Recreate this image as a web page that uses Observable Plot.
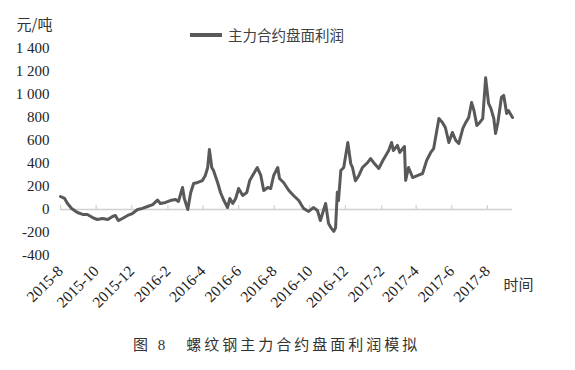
<!DOCTYPE html>
<html><head><meta charset="utf-8">
<script src="https://cdn.jsdelivr.net/npm/d3@7"></script>
<script src="https://cdn.jsdelivr.net/npm/@observablehq/plot@0.6"></script>
<style>
body{margin:0;background:#fff;font-family:"Liberation Serif","Noto Sans CJK SC",serif;}
#wrap{position:relative;width:575px;height:370px;overflow:hidden;}
#chart{position:absolute;left:0;top:0;}
#legend{position:absolute;left:190px;top:24px;font-size:14.5px;color:#404040;display:flex;align-items:center;font-family:"Noto Sans CJK SC",sans-serif;}
#legend .sw{display:inline-block;width:32px;height:4px;background:#595959;margin-right:6px;}
#caption{position:absolute;left:133px;top:333px;font-size:15px;color:#333;letter-spacing:3px;white-space:pre;font-family:"Liberation Serif","Noto Sans CJK SC",serif;}
</style></head>
<body><div id="wrap"><div id="chart"></div><div id="legend"><span class="sw"></span><span id="legtxt"></span></div><div id="caption"></div></div>
<script>
const seriesName = "主力合约盘面利润";
const yUnit = "元/吨";
const xTitle = "时间";
const captionText = "图 8　螺纹钢主力合约盘面利润模拟";

const dates = [
"2015-08-01","2015-08-08","2015-08-13","2015-08-20","2015-08-30","2015-09-08","2015-09-16","2015-09-25",
"2015-10-03","2015-10-12","2015-10-21","2015-10-29","2015-11-03","2015-11-08","2015-11-15","2015-11-24",
"2015-12-02","2015-12-11","2015-12-19","2015-12-28","2016-01-06","2016-01-14","2016-01-19","2016-01-28",
"2016-02-05","2016-02-14","2016-02-19","2016-02-26","2016-02-29","2016-03-06","2016-03-11","2016-03-16",
"2016-03-23","2016-03-31","2016-04-05","2016-04-09","2016-04-12","2016-04-16","2016-04-19","2016-04-26",
"2016-05-01","2016-05-06","2016-05-13","2016-05-17","2016-05-22","2016-05-27","2016-06-01","2016-06-08",
"2016-06-15","2016-06-20","2016-06-27","2016-07-03","2016-07-09","2016-07-14","2016-07-21","2016-07-26",
"2016-07-31","2016-08-07","2016-08-10","2016-08-17","2016-08-26","2016-09-03","2016-09-12","2016-09-20",
"2016-09-29","2016-10-07","2016-10-14","2016-10-19","2016-10-28","2016-11-02","2016-11-06","2016-11-11",
"2016-11-14","2016-11-17","2016-11-19","2016-11-23","2016-11-28","2016-12-05","2016-12-10","2016-12-13",
"2016-12-18","2016-12-24","2016-12-30","2017-01-08","2017-01-13","2017-01-18","2017-01-27","2017-02-03",
"2017-02-08","2017-02-13","2017-02-18","2017-02-21","2017-02-28","2017-03-04","2017-03-09","2017-03-12",
"2017-03-14","2017-03-19","2017-03-26","2017-04-04","2017-04-12","2017-04-19","2017-04-26","2017-05-01",
"2017-05-10","2017-05-16","2017-05-21","2017-05-27","2017-06-02","2017-06-08","2017-06-13","2017-06-20",
"2017-06-25","2017-06-30","2017-07-05","2017-07-09","2017-07-14","2017-07-19","2017-07-24","2017-07-29",
"2017-08-03","2017-08-07","2017-08-12","2017-08-15","2017-08-19","2017-08-25","2017-08-29","2017-09-03",
"2017-09-06","2017-09-13"
];
const profit = [
113,96,52,9,-26,-43,-43,-70,
-87,-78,-87,-61,-52,-96,-78,-52,
-35,0,9,26,43,82,52,61,
78,87,70,191,96,0,148,226,
235,252,296,365,522,365,339,235,
148,87,17,96,52,96,183,122,
148,252,313,365,296,165,191,183,
296,365,270,235,165,122,78,10,
-17,17,-9,-96,52,-122,-157,-190,
-160,150,78,339,365,583,400,365,
250,296,365,409,443,409,357,426,
470,513,583,513,557,496,530,548,
252,365,278,296,313,426,496,530,
791,757,713,583,670,600,574,705,
757,800,930,861,731,757,791,1145,
922,879,791,661,757,974,992,835,
861,800
];
const xTickLabels = ["2015-8","2015-10","2015-12","2016-2","2016-4","2016-6","2016-8","2016-10","2016-12","2017-2","2017-4","2017-6","2017-8"];
const yTicks = [-400,-200,0,200,400,600,800,1000,1200,1400];

const parse = d3.utcParse("%Y-%m-%d");
const parseMonth = d3.utcParse("%Y-%m");
const data = dates.map((d, i) => ({date: parse(d), value: profit[i]}));
const tickDates = xTickLabels.map(s => parseMonth(s));
const fmtY = d3.formatLocale({decimal: ".", thousands: " ", grouping: [3], currency: ["", ""], minus: "-"}).format(",");
const fmtX = d3.utcFormat("%Y-%-m");

const chart = Plot.plot({
  width: 575,
  height: 320,
  marginTop: 48,
  marginBottom: 65,
  marginLeft: 60,
  marginRight: 63,
  style: {fontFamily: '"Liberation Serif","Noto Sans CJK SC",serif', fontSize: "15px", color: "#222", background: "transparent", overflow: "visible"},
  x: {type: "utc", domain: [parse(dates[0]), parse(dates[dates.length - 1])], ticks: tickDates, tickFormat: fmtX, tickRotate: -45, tickSize: 0, tickPadding: 13, label: null},
  y: {domain: [yTicks[0], yTicks[yTicks.length - 1]], ticks: yTicks, tickFormat: fmtY, tickSize: 0, tickPadding: 11, label: null},
  marks: [
    Plot.ruleY([0], {stroke: "#d0d0d0", strokeWidth: 1.5}),
    Plot.ruleX(tickDates, {x: d => d, y1: 0, y2: 35, stroke: "#d0d0d0", strokeWidth: 1.2}),
    Plot.line(data, {x: "date", y: "value", stroke: "#595959", strokeWidth: 3, strokeLinejoin: "round", strokeLinecap: "round"}),
    Plot.text([yUnit], {frameAnchor: "top-left", textAnchor: "end", lineAnchor: "middle", dx: -8, dy: -23, fill: "#333", fontSize: 15, fontFamily: '"Noto Sans CJK SC",sans-serif'}),
    Plot.text([xTitle], {frameAnchor: "bottom-right", textAnchor: "start", lineAnchor: "middle", dx: -9, dy: 30, fill: "#333", fontSize: 15, fontFamily: '"Noto Sans CJK SC",sans-serif'})
  ]
});
document.getElementById("chart").appendChild(chart);
d3.select(chart).selectAll('[aria-label^="x-axis"] text').style("font-size", "15.5px");
document.getElementById("legtxt").textContent = seriesName;
document.getElementById("caption").textContent = captionText;
</script>
</body></html>
